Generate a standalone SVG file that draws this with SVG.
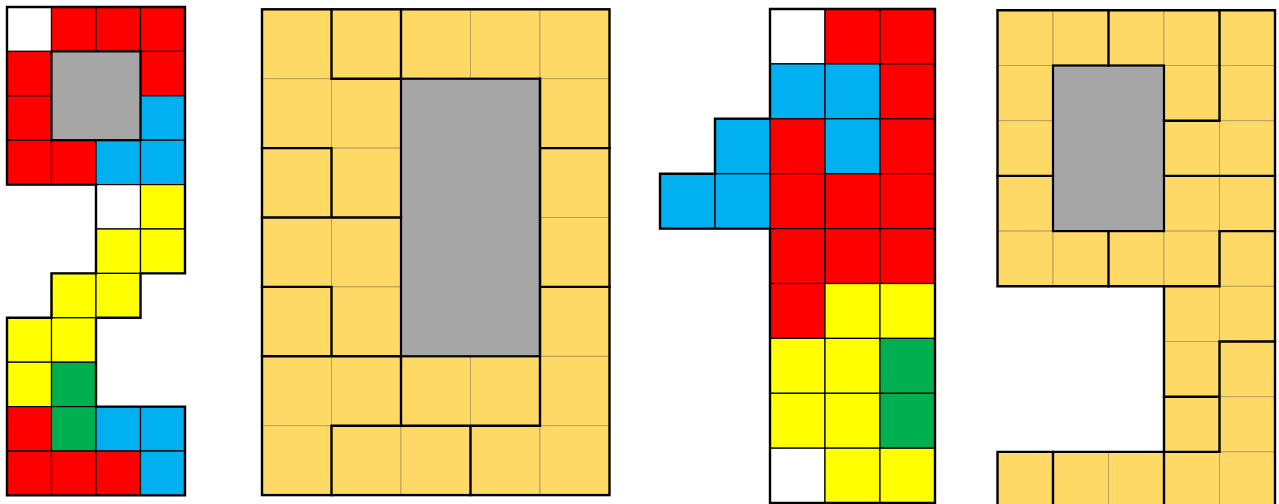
<svg xmlns="http://www.w3.org/2000/svg" width="1279" height="504" viewBox="0 0 1279 504">
<style>
.c{stroke:#000;stroke-width:1.2}
.r{fill:#FF0000}.b{fill:#00B0F0}.y{fill:#FFFF00}.g{fill:#00B050}.w{fill:#FFFFFF}
.gr{fill:#A6A6A6;stroke:#000;stroke-width:2.2}
.t{fill:#FFD966;stroke:#B9A05A;stroke-width:1}
.ol{fill:none;stroke:#000;stroke-width:2.4;stroke-linejoin:miter}
.th{fill:none;stroke:#000;stroke-width:2.4;stroke-linecap:square}
</style>
<rect width="1279" height="504" fill="#fff"/>

<g id="digit-2">
<rect class="c w" x="7" y="7" width="44.5" height="44.4"/>
<rect class="c r" x="51.5" y="7" width="44.5" height="44.4"/>
<rect class="c r" x="96" y="7" width="44.5" height="44.4"/>
<rect class="c r" x="140.5" y="7" width="44.5" height="44.4"/>
<rect class="c r" x="7" y="51.4" width="44.5" height="44.4"/>
<rect class="c r" x="140.5" y="51.4" width="44.5" height="44.4"/>
<rect class="c r" x="7" y="95.8" width="44.5" height="44.4"/>
<rect class="c b" x="140.5" y="95.8" width="44.5" height="44.4"/>
<rect class="c r" x="7" y="140.2" width="44.5" height="44.4"/>
<rect class="c r" x="51.5" y="140.2" width="44.5" height="44.4"/>
<rect class="c b" x="96" y="140.2" width="44.5" height="44.4"/>
<rect class="c b" x="140.5" y="140.2" width="44.5" height="44.4"/>
<rect class="gr" x="51.5" y="51.4" width="89" height="88.8"/>
<rect class="c w" x="96" y="184.6" width="44.5" height="44.4"/>
<rect class="c y" x="140.5" y="184.6" width="44.5" height="44.4"/>
<rect class="c y" x="96" y="229" width="44.5" height="44.4"/>
<rect class="c y" x="140.5" y="229" width="44.5" height="44.4"/>
<rect class="c y" x="51.5" y="273.4" width="44.5" height="44.4"/>
<rect class="c y" x="96" y="273.4" width="44.5" height="44.4"/>
<rect class="c y" x="7" y="317.8" width="44.5" height="44.4"/>
<rect class="c y" x="51.5" y="317.8" width="44.5" height="44.4"/>
<rect class="c y" x="7" y="362.2" width="44.5" height="44.4"/>
<rect class="c g" x="51.5" y="362.2" width="44.5" height="44.4"/>
<rect class="c r" x="7" y="406.6" width="44.5" height="44.4"/>
<rect class="c g" x="51.5" y="406.6" width="44.5" height="44.4"/>
<rect class="c b" x="96" y="406.6" width="44.5" height="44.4"/>
<rect class="c b" x="140.5" y="406.6" width="44.5" height="44.4"/>
<rect class="c r" x="7" y="451" width="44.5" height="44.4"/>
<rect class="c r" x="51.5" y="451" width="44.5" height="44.4"/>
<rect class="c r" x="96" y="451" width="44.5" height="44.4"/>
<rect class="c b" x="140.5" y="451" width="44.5" height="44.4"/>
<path class="ol" d="M7 7H185V273.4H140.5V317.8H96V406.6H185V495.4H7V317.8H51.5V273.4H96V184.6H7Z"/>
</g>

<g id="digit-0">
<rect class="t" x="262" y="9.3" width="69.5" height="69.4"/>
<rect class="t" x="331.5" y="9.3" width="69.5" height="69.4"/>
<rect class="t" x="401" y="9.3" width="69.5" height="69.4"/>
<rect class="t" x="470.5" y="9.3" width="69.5" height="69.4"/>
<rect class="t" x="540" y="9.3" width="69.5" height="69.4"/>
<rect class="t" x="262" y="78.7" width="69.5" height="69.4"/>
<rect class="t" x="331.5" y="78.7" width="69.5" height="69.4"/>
<rect class="t" x="540" y="78.7" width="69.5" height="69.4"/>
<rect class="t" x="262" y="148.1" width="69.5" height="69.4"/>
<rect class="t" x="331.5" y="148.1" width="69.5" height="69.4"/>
<rect class="t" x="540" y="148.1" width="69.5" height="69.4"/>
<rect class="t" x="262" y="217.5" width="69.5" height="69.4"/>
<rect class="t" x="331.5" y="217.5" width="69.5" height="69.4"/>
<rect class="t" x="540" y="217.5" width="69.5" height="69.4"/>
<rect class="t" x="262" y="286.9" width="69.5" height="69.4"/>
<rect class="t" x="331.5" y="286.9" width="69.5" height="69.4"/>
<rect class="t" x="540" y="286.9" width="69.5" height="69.4"/>
<rect class="t" x="262" y="356.3" width="69.5" height="69.4"/>
<rect class="t" x="331.5" y="356.3" width="69.5" height="69.4"/>
<rect class="t" x="401" y="356.3" width="69.5" height="69.4"/>
<rect class="t" x="470.5" y="356.3" width="69.5" height="69.4"/>
<rect class="t" x="540" y="356.3" width="69.5" height="69.4"/>
<rect class="t" x="262" y="425.7" width="69.5" height="69.4"/>
<rect class="t" x="331.5" y="425.7" width="69.5" height="69.4"/>
<rect class="t" x="401" y="425.7" width="69.5" height="69.4"/>
<rect class="t" x="470.5" y="425.7" width="69.5" height="69.4"/>
<rect class="t" x="540" y="425.7" width="69.5" height="69.4"/>
<rect class="gr" x="401" y="78.7" width="139" height="277.6"/>
<path class="th" d="M331.5 9.3V78.7H401M401 9.3V78.7M331.5 148.1V217.5M331.5 286.9V356.3M331.5 425.7V495.1M470.5 425.7V495.1M401 356.3V425.7M262 148.1H331.5M540 148.1H609.5M262 217.5H401M262 286.9H331.5M540 286.9H609.5M262 356.3H401M540 78.7V425.7M331.5 425.7H540"/>
<rect class="ol" x="262" y="9.3" width="347.5" height="485.8"/>
</g>

<g id="digit-1">
<rect class="c w" x="770" y="9" width="55" height="54.9"/>
<rect class="c r" x="825" y="9" width="55" height="54.9"/>
<rect class="c r" x="880" y="9" width="55" height="54.9"/>
<rect class="c b" x="770" y="63.9" width="55" height="54.9"/>
<rect class="c b" x="825" y="63.9" width="55" height="54.9"/>
<rect class="c r" x="880" y="63.9" width="55" height="54.9"/>
<rect class="c b" x="715" y="118.8" width="55" height="54.9"/>
<rect class="c r" x="770" y="118.8" width="55" height="54.9"/>
<rect class="c b" x="825" y="118.8" width="55" height="54.9"/>
<rect class="c r" x="880" y="118.8" width="55" height="54.9"/>
<rect class="c b" x="660" y="173.7" width="55" height="54.9"/>
<rect class="c b" x="715" y="173.7" width="55" height="54.9"/>
<rect class="c r" x="770" y="173.7" width="55" height="54.9"/>
<rect class="c r" x="825" y="173.7" width="55" height="54.9"/>
<rect class="c r" x="880" y="173.7" width="55" height="54.9"/>
<rect class="c r" x="770" y="228.6" width="55" height="54.9"/>
<rect class="c r" x="825" y="228.6" width="55" height="54.9"/>
<rect class="c r" x="880" y="228.6" width="55" height="54.9"/>
<rect class="c r" x="770" y="283.5" width="55" height="54.9"/>
<rect class="c y" x="825" y="283.5" width="55" height="54.9"/>
<rect class="c y" x="880" y="283.5" width="55" height="54.9"/>
<rect class="c y" x="770" y="338.4" width="55" height="54.9"/>
<rect class="c y" x="825" y="338.4" width="55" height="54.9"/>
<rect class="c g" x="880" y="338.4" width="55" height="54.9"/>
<rect class="c y" x="770" y="393.3" width="55" height="54.9"/>
<rect class="c y" x="825" y="393.3" width="55" height="54.9"/>
<rect class="c g" x="880" y="393.3" width="55" height="54.9"/>
<rect class="c w" x="770" y="448.2" width="55" height="54.9"/>
<rect class="c y" x="825" y="448.2" width="55" height="54.9"/>
<rect class="c y" x="880" y="448.2" width="55" height="54.9"/>
<path class="ol" d="M770 9H935V503H770V228.6H660V173.7H715V118.8H770Z"/>
</g>

<g id="digit-9">
<rect class="t" x="997.5" y="10.3" width="55.5" height="55.2"/>
<rect class="t" x="1053" y="10.3" width="55.5" height="55.2"/>
<rect class="t" x="1108.5" y="10.3" width="55.5" height="55.2"/>
<rect class="t" x="1164" y="10.3" width="55.5" height="55.2"/>
<rect class="t" x="1219.5" y="10.3" width="55.5" height="55.2"/>
<rect class="t" x="997.5" y="65.5" width="55.5" height="55.2"/>
<rect class="t" x="1164" y="65.5" width="55.5" height="55.2"/>
<rect class="t" x="1219.5" y="65.5" width="55.5" height="55.2"/>
<rect class="t" x="997.5" y="120.7" width="55.5" height="55.2"/>
<rect class="t" x="1164" y="120.7" width="55.5" height="55.2"/>
<rect class="t" x="1219.5" y="120.7" width="55.5" height="55.2"/>
<rect class="t" x="997.5" y="175.9" width="55.5" height="55.2"/>
<rect class="t" x="1164" y="175.9" width="55.5" height="55.2"/>
<rect class="t" x="1219.5" y="175.9" width="55.5" height="55.2"/>
<rect class="t" x="997.5" y="231.1" width="55.5" height="55.2"/>
<rect class="t" x="1053" y="231.1" width="55.5" height="55.2"/>
<rect class="t" x="1108.5" y="231.1" width="55.5" height="55.2"/>
<rect class="t" x="1164" y="231.1" width="55.5" height="55.2"/>
<rect class="t" x="1219.5" y="231.1" width="55.5" height="55.2"/>
<rect class="t" x="1164" y="286.3" width="55.5" height="55.2"/>
<rect class="t" x="1219.5" y="286.3" width="55.5" height="55.2"/>
<rect class="t" x="1164" y="341.5" width="55.5" height="55.2"/>
<rect class="t" x="1219.5" y="341.5" width="55.5" height="55.2"/>
<rect class="t" x="1164" y="396.7" width="55.5" height="55.2"/>
<rect class="t" x="1219.5" y="396.7" width="55.5" height="55.2"/>
<rect class="t" x="997.5" y="451.9" width="55.5" height="55.2"/>
<rect class="t" x="1053" y="451.9" width="55.5" height="55.2"/>
<rect class="t" x="1108.5" y="451.9" width="55.5" height="55.2"/>
<rect class="t" x="1164" y="451.9" width="55.5" height="55.2"/>
<rect class="t" x="1219.5" y="451.9" width="55.5" height="55.2"/>
<rect class="gr" x="1053" y="65.5" width="111" height="165.6"/>
<path class="th" d="M1108.5 10.3V65.5M1108.5 231.1V286.3M1219.5 10.3V120.7H1164M1219.5 231.1V286.3M1219.5 341.5V451.9M997.5 175.9H1053M1164 175.9H1275M1219.5 231.1H1275M1164 286.3H1219.5M1219.5 341.5H1275M1164 396.7H1219.5M1164 451.9H1219.5M1053 451.9V507.1M1164 451.9V507.1"/>
<path class="ol" d="M997.5 10.3H1275V507.1H997.5V451.9H1164V286.3H997.5Z"/>
</g>
</svg>
